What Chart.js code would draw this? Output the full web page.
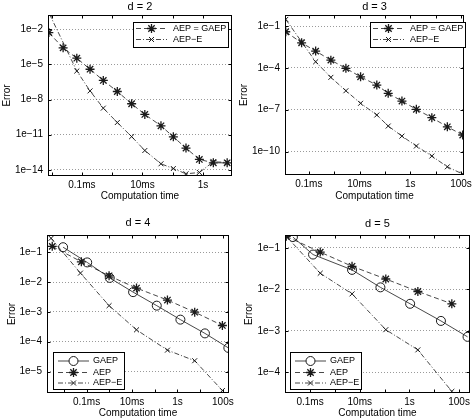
<!DOCTYPE html>
<html>
<head>
<meta charset="utf-8">
<script src="https://cdn.jsdelivr.net/npm/chart.js@4.4.1/dist/chart.umd.min.js"></script>
<style>
body { margin: 0; background: #fff; }
#wrap { position: relative; width: 475px; height: 419px; }
canvas { position: absolute; }
</style>
</head>
<body>
<div id="wrap">
  <canvas id="c2" width="237" height="209" style="left:0;top:0"></canvas>
  <canvas id="c3" width="238" height="209" style="left:237px;top:0"></canvas>
  <canvas id="c4" width="237" height="210" style="left:0;top:209px"></canvas>
  <canvas id="c5" width="238" height="210" style="left:237px;top:209px"></canvas>
</div>
<script>
// x axis (seconds)
var xTickVals = [1e-4, 1e-2, 1, 100];
var xTickLabels = ['0.1ms', '10ms', '1s', '100s'];

// d = 2
var time2 = [8.1e-6, 2.4e-5, 6.8e-5, 1.86e-4, 5.1e-4, 1.48e-3, 4.4e-3, 1.2e-2, 4.1e-2, 0.105, 0.275, 0.76, 2.2, 6.3];
var errAEP2 = [5.2e-3, 2.6e-4, 3.4e-5, 3.9e-6, 4.3e-7, 4.9e-8, 4.4e-9, 5.4e-10, 5.8e-11, 6.6e-12, 7.2e-13, 7.8e-14, 4.0e-14, 4.0e-14];
var timeE2 = [8.5e-6, 6.8e-5, 1.86e-4, 5.1e-4, 1.48e-3, 4.4e-3, 1.2e-2, 4.1e-2, 0.105, 0.275, 0.76, 2.2, 6.3];
var errE2 = [0.2, 2.75e-6, 5.5e-8, 1.86e-9, 1.1e-10, 6.9e-12, 4.5e-13, 3.3e-14, 1.3e-14, 4.6e-15, 6.0e-15, 4.9e-14, 4.3e-14];
var yTicks2 = [1e-14, 1e-11, 1e-8, 1e-5, 1e-2];
var yLabels2 = ['1e\u221214', '1e\u221211', '1e\u22128', '1e\u22125', '1e\u22122'];

// d = 3
var time3 = [1.23e-5, 5.2e-5, 1.86e-4, 7.4e-4, 2.9e-3, 1.1e-2, 4.8e-2, 0.135, 0.47, 1.74, 7.1, 29, 117];
var errAEP3 = [3.9e-2, 6.3e-3, 1.6e-3, 3.6e-4, 9.3e-5, 2.3e-5, 5.9e-6, 1.5e-6, 4.2e-7, 1.07e-7, 2.7e-8, 6.0e-9, 1.55e-9];
var errE3 = [0.3, 7.4e-3, 2.75e-4, 2.1e-5, 2.3e-6, 2.9e-7, 4.2e-8, 6.8e-9, 1.29e-9, 2.5e-10, 4.8e-11, 8.1e-12, 2.45e-12];
var yTicks3 = [1e-10, 1e-7, 1e-4, 1e-1];
var yLabels3 = ['1e\u221210', '1e\u22127', '1e\u22124', '1e\u22121'];

// d = 4
var timeG4 = [9.3e-6, 1.07e-4, 1.05e-3, 1.12e-2, 0.123, 1.35, 16.2, 174];
var errG4 = [0.148, 0.0457, 0.0138, 4.6e-3, 1.62e-3, 5.5e-4, 1.9e-4, 6.2e-5];
var time4 = [3.1e-6, 5.9e-5, 9.8e-4, 1.58e-2, 0.363, 5.75, 95];
var errAEP4 = [0.158, 0.048, 0.0162, 6.3e-3, 2.5e-3, 9.8e-4, 3.5e-4];
var timeE4 = [2.75e-6, 5.4e-5, 9.8e-4, 1.58e-2, 0.363, 5.75, 95];
var errE4 = [0.295, 0.02, 1.62e-3, 2.5e-4, 5.2e-5, 2.3e-5, 2.3e-6];
var yTicks4 = [1e-5, 1e-4, 1e-3, 1e-2, 1e-1];
var yLabels4 = ['1e\u22125', '1e\u22124', '1e\u22123', '1e\u22122', '1e\u22121'];

// d = 5
var timeG5 = [2.04e-5, 1.32e-4, 4.9e-3, 6.8e-2, 1.07, 18.6, 219];
var errG5 = [0.182, 0.069, 0.0295, 0.0112, 4.5e-3, 1.74e-3, 7.2e-4];
var time5 = [1.1e-5, 2.57e-4, 4.9e-3, 0.112, 2.19, 51];
var errAEP5 = [0.19, 0.079, 0.036, 0.0178, 8.9e-3, 4.5e-3];
var errE5 = [0.19, 0.0245, 7.8e-3, 1.07e-3, 3.5e-4, 3.5e-5];
var yTicks5 = [1e-4, 1e-3, 1e-2, 1e-1];
var yLabels5 = ['1e\u22124', '1e\u22123', '1e\u22122', '1e\u22121'];

var FONT = "'Liberation Sans', Arial, sans-serif";
var INK = '#1a1a1a';

function pts(xs, ys) {
    return xs.map(function (x, i) { return {x: x, y: ys[i]}; });
}

function series(label, xs, ys, kind) {
    var d = {
        label: label,
        data: pts(xs, ys),
        borderColor: INK,
        borderWidth: 0.8,
        pointBorderColor: INK,
        pointBackgroundColor: 'rgba(0,0,0,0)',
        pointBorderWidth: 1,
        fill: false,
        tension: 0
    };
    if (kind == 'circle') {
        d.borderDash = [];
        d.pointStyle = 'circle';
        d.pointRadius = 4.5;
    } else if (kind == 'star') {
        d.borderDash = [5, 3];
        d.pointStyle = 'star';
        d.pointRadius = 4.5;
        d.pointBorderWidth = 1.3;
    } else {
        d.borderDash = [5, 2, 1, 2];
        d.pointStyle = 'crossRot';
        d.pointRadius = 3.5;
    }
    return d;
}

function marker(ctx, style, r, x, y) {
    ctx.beginPath();
    if (style == 'circle') {
        ctx.arc(x, y, r, 0, Math.PI * 2);
    } else {
        var a = r * Math.SQRT1_2;
        ctx.moveTo(x - a, y - a); ctx.lineTo(x + a, y + a);
        ctx.moveTo(x - a, y + a); ctx.lineTo(x + a, y - a);
        if (style == 'star') {
            ctx.moveTo(x - r, y); ctx.lineTo(x + r, y);
            ctx.moveTo(x, y - r); ctx.lineTo(x, y + r);
        }
    }
    ctx.stroke();
}

// box, inward ticks and matlab style legend
var framePlugin = {
    id: 'frame',
    afterDatasetsDraw: function (chart, args, opts) {
        var ctx = chart.ctx, a = chart.chartArea;
        var xs = chart.scales.x, ys = chart.scales.y;
        ctx.save();
        ctx.strokeStyle = '#000';
        ctx.lineWidth = 1;
        ctx.setLineDash([]);
        var L = Math.round(a.left) + 0.5, T = Math.round(a.top) + 0.5;
        var R = Math.round(a.right) - 0.5, B = Math.round(a.bottom) - 0.5;
        ctx.strokeRect(L, T, R - L, B - T);
        ctx.beginPath();
        var k0 = Math.ceil(Math.log10(xs.min)), k1 = Math.floor(Math.log10(xs.max));
        for (var k = k0; k <= k1; k++) {
            var p = Math.round(xs.getPixelForValue(Math.pow(10, k))) + 0.5;
            ctx.moveTo(p, B); ctx.lineTo(p, B - 3);
            ctx.moveTo(p, T); ctx.lineTo(p, T + 3);
        }
        ys.ticks.forEach(function (t) {
            var q = Math.round(ys.getPixelForValue(t.value)) + 0.5;
            ctx.moveTo(L, q); ctx.lineTo(L + 3, q);
            ctx.moveTo(R, q); ctx.lineTo(R - 3, q);
        });
        ctx.stroke();

        var lg = opts.legend;
        if (lg) {
            ctx.fillStyle = '#fff';
            ctx.fillRect(lg.x, lg.y, lg.w, lg.h);
            ctx.strokeStyle = '#000';
            ctx.strokeRect(lg.x + 0.5, lg.y + 0.5, lg.w, lg.h);
            ctx.font = lg.size + 'px ' + FONT;
            ctx.textBaseline = 'middle';
            ctx.textAlign = 'left';
            lg.rows.forEach(function (ry, i) {
                var d = chart.data.datasets[i];
                ctx.strokeStyle = d.borderColor;
                ctx.lineWidth = d.borderWidth;
                ctx.setLineDash(d.borderDash);
                ctx.beginPath();
                ctx.moveTo(lg.x0, ry); ctx.lineTo(lg.x1, ry);
                ctx.stroke();
                ctx.setLineDash([]);
                ctx.lineWidth = d.pointBorderWidth;
                ctx.fillStyle = '#fff';
                if (d.pointStyle == 'circle') {
                    ctx.beginPath();
                    ctx.arc((lg.x0 + lg.x1) / 2, ry, d.pointRadius, 0, Math.PI * 2);
                    ctx.fill();
                }
                marker(ctx, d.pointStyle, d.pointRadius, (lg.x0 + lg.x1) / 2, ry);
                ctx.fillStyle = '#000';
                ctx.fillText(d.label, lg.tx, ry);
            });
        }
        ctx.restore();
    }
};

function ticksIn(vals, lo, hi) {
    return vals.filter(function (v) { return v >= lo && v <= hi; })
        .map(function (v) { return {value: v}; });
}

function makeChart(id, c) {
    var canvas = document.getElementById(id);
    var W = canvas.width, H = canvas.height;
    return new Chart(canvas, {
        type: 'line',
        data: {datasets: c.datasets},
        plugins: [framePlugin],
        options: {
            responsive: false,
            animation: false,
            events: [],
            layout: {padding: {left: 0, right: W - c.area.r, top: 0, bottom: 0}, autoPadding: false},
            plugins: {
                legend: {display: false},
                tooltip: {enabled: false},
                title: {
                    display: true, fullSize: false, text: c.title, color: '#000',
                    font: {family: FONT, size: 11, weight: 'normal'},
                    padding: {top: c.titleTop, bottom: c.area.t - c.titleTop - 13.2}
                },
                frame: {legend: c.legend}
            },
            scales: {
                x: {
                    type: 'logarithmic', min: c.xMin, max: c.xMax,
                    afterBuildTicks: function (s) { s.ticks = ticksIn(xTickVals, c.xMin, c.xMax); },
                    afterFit: function (s) { s.height = H - c.area.b; },
                    ticks: {
                        autoSkip: false, maxRotation: 0, padding: 3, color: '#000',
                        font: {family: FONT, size: 10},
                        callback: function (v) { return xTickLabels[xTickVals.indexOf(v)]; }
                    },
                    grid: {display: false, drawTicks: false},
                    border: {display: false},
                    title: {
                        display: true, text: 'Computation time', color: '#000',
                        font: {family: FONT, size: 10},
                        padding: {top: 0, bottom: c.xTitlePad}
                    }
                },
                y: {
                    type: 'logarithmic', min: c.yMin, max: c.yMax,
                    afterBuildTicks: function (s) { s.ticks = ticksIn(c.yTicks, c.yMin, c.yMax); },
                    afterFit: function (s) { s.width = c.area.l; },
                    ticks: {
                        autoSkip: false, padding: 5, color: '#000',
                        font: {family: FONT, size: 10},
                        callback: function (v) { return c.yLabels[c.yTicks.indexOf(v)]; }
                    },
                    grid: {color: '#9a9a9a', lineWidth: 1, drawTicks: false},
                    border: {display: false, dash: [1, 2]},
                    title: {
                        display: true, text: 'Error', color: '#000',
                        font: {family: FONT, size: 10},
                        padding: {top: c.yTitlePad, bottom: 0}
                    }
                }
            }
        }
    });
}

makeChart('c2', {
    title: 'd = 2', titleTop: 0,
    area: {l: 48, t: 15, r: 232, b: 176},
    xMin: 7.6e-6, xMax: 9.1, yMin: 3.1e-15, yMax: 0.166,
    yTicks: yTicks2, yLabels: yLabels2, xTitlePad: 7, yTitlePad: 1,
    datasets: [
        series('AEP = GAEP', time2, errAEP2, 'star'),
        series('AEP\u2212E', timeE2, errE2, 'cross')
    ],
    legend: {x: 133, y: 22, w: 95, h: 25, x0: 136, x1: 167, tx: 173, size: 9, rows: [28.5, 39.5]}
});

makeChart('c3', {
    title: 'd = 3', titleTop: 0,
    area: {l: 48, t: 15, r: 232, b: 175},
    xMin: 1.15e-5, xMax: 132, yMin: 2.1e-12, yMax: 0.62,
    yTicks: yTicks3, yLabels: yLabels3, xTitlePad: 7, yTitlePad: 1.3,
    datasets: [
        series('AEP = GAEP', time3, errAEP3, 'star'),
        series('AEP\u2212E', time3, errE3, 'cross')
    ],
    legend: {x: 133, y: 22, w: 95, h: 25, x0: 136, x1: 167, tx: 173, size: 9, rows: [28.5, 39.5]}
});

makeChart('c4', {
    title: 'd = 4', titleTop: 7.4,
    area: {l: 47, t: 26, r: 234, b: 184},
    xMin: 1.82e-6, xMax: 186, yMin: 1.9e-6, yMax: 0.38,
    yTicks: yTicks4, yLabels: yLabels4, xTitlePad: 0, yTitlePad: 6,
    datasets: [
        series('GAEP', timeG4, errG4, 'circle'),
        series('AEP', time4, errAEP4, 'star'),
        series('AEP\u2212E', timeE4, errE4, 'cross')
    ],
    legend: {x: 53, y: 143, w: 71, h: 37, x0: 58, x1: 89, tx: 93, size: 9, rows: [152, 163.5, 174]}
});

makeChart('c5', {
    title: 'd = 5', titleTop: 8.4,
    area: {l: 48, t: 26, r: 233, b: 184},
    xMin: 9.8e-6, xMax: 275, yMin: 3.2e-5, yMax: 0.204,
    yTicks: yTicks5, yLabels: yLabels5, xTitlePad: 0, yTitlePad: 6.3,
    datasets: [
        series('GAEP', timeG5, errG5, 'circle'),
        series('AEP', time5, errAEP5, 'star'),
        series('AEP\u2212E', time5, errE5, 'cross')
    ],
    legend: {x: 53, y: 143, w: 71, h: 37, x0: 58, x1: 89, tx: 93, size: 9, rows: [152, 163.5, 174]}
});
</script>
</body>
</html>
